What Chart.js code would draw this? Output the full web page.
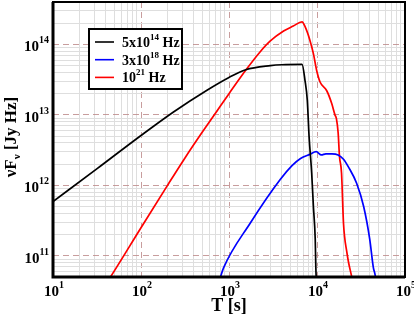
<!DOCTYPE html>
<html>
<head>
<meta charset="utf-8">
<script src="https://cdn.jsdelivr.net/npm/chart.js@4"></script>
<style>
  html, body { margin: 0; padding: 0; background: #fff; }
  #wrap { position: relative; width: 414px; height: 315px; }
</style>
</head>
<body>
<div id="wrap"><canvas id="grafica" width="414" height="315"></canvas></div>
<script>
// Datos
const optT = [10, 32, 100, 234, 562, 1000, 1550, 2950, 3980, 6760, 7300, 7760, 8130, 8700, 9100, 9550, 9700, 10000];
const optF = [5.9e11, 1.74e12, 5.1e12, 1.1e13, 2.24e13, 3.4e13, 4.37e13, 5.0e13, 5.15e13, 5.2e13, 3.1e13, 1.6e13, 4.9e12, 1.5e12, 5.0e11, 1.7e11, 6.8e10, 3e10];

const xrayT = [760, 800, 870, 1740, 3800, 5200, 6500, 8300, 9800, 11200, 12600, 14800, 17400, 20000, 22900, 28200, 33900, 39800, 43700, 45700, 47300];
const xrayF = [4e10, 5e10, 6.8e10, 2.9e11, 1.2e12, 1.9e12, 2.4e12, 2.75e12, 3.0e12, 2.7e12, 2.8e12, 2.8e12, 2.7e12, 2.35e12, 1.8e12, 1.07e12, 5.0e11, 1.7e11, 6.8e10, 5.4e10, 4e10];

const gammaT = [40, 45, 100, 200, 316, 500, 724, 1000, 1585, 2240, 2950, 4170, 5370, 6760, 7300, 8300, 9100, 9900, 10800, 12900, 14700, 16000, 16600, 17400, 18000, 19000, 20000, 21900, 22900, 24500, 25700];
const gammaF = [4e10, 5.0e10, 2.5e11, 1.0e12, 2.45e12, 5.75e12, 1.12e13, 2.0e13, 4.47e13, 7.76e13, 1.12e14, 1.55e14, 1.82e14, 2.09e14, 1.8e14, 1.15e14, 7.4e13, 4.3e13, 2.95e13, 2.2e13, 1.45e13, 1.0e13, 8.9e12, 5.5e12, 2.6e12, 1.5e12, 2.9e11, 1.1e11, 7.9e10, 5.4e10, 4e10];

// Etiquetas
const xExps = ['1', '2', '3', '4', '5'];
const yExps = ['11', '12', '13', '14'];
const legendBase = ['5x10', '3x10', '10'];
const legendExp = ['14', '18', '21'];
const seriesColors = ['#000000', '#0000ff', '#ff0000'];

const SERIF = '"Liberation Serif", "DejaVu Serif", serif';

const toPoints = (ts, fs) => ts.map((t, i) => ({ x: t, y: fs[i] }));

// ticks en 1..9 x 10^n
const logTicks = (min, max) => {
  const ticks = [];
  for (let e = Math.floor(Math.log10(min)); e <= Math.ceil(Math.log10(max)); e++) {
    for (let m = 1; m <= 9; m++) {
      const v = m * Math.pow(10, e);
      if (v >= min * 0.999 && v <= max * 1.001) ticks.push({ value: v });
    }
  }
  return ticks;
};

const isDecade = (tick) => {
  if (!tick) return false;
  const l = Math.log10(tick.value);
  return Math.abs(l - Math.round(l)) < 1e-6;
};

const gridOpts = {
  drawTicks: false,
  lineWidth: 1,
  color: (ctx) => (isDecade(ctx.tick) ? 'rgba(190,140,140,0.85)' : '#dedede')
};
const borderOpts = {
  display: false,
  dash: (ctx) => (isDecade(ctx.tick) ? [6, 4] : [])
};

// texto con partes (superindices / subindices)
const drawRich = (ctx, parts, x, y) => {
  let cx = x;
  parts.forEach((p) => {
    ctx.font = 'bold ' + p.size + 'px ' + SERIF;
    ctx.fillText(p.text, cx, y + (p.dy || 0));
    cx += ctx.measureText(p.text).width;
  });
  return cx - x;
};
const richWidth = (ctx, parts) => {
  let w = 0;
  parts.forEach((p) => {
    ctx.font = 'bold ' + p.size + 'px ' + SERIF;
    w += ctx.measureText(p.text).width;
  });
  return w;
};

const decoraciones = {
  id: 'decoraciones',
  afterDraw(chart) {
    const ctx = chart.ctx;
    const area = chart.chartArea;
    const xs = chart.scales.x;
    const ys = chart.scales.y;
    ctx.save();
    ctx.fillStyle = '#000';
    ctx.textAlign = 'left';
    ctx.textBaseline = 'alphabetic';

    // marco
    ctx.strokeStyle = '#000';
    ctx.lineWidth = 2;
    ctx.strokeRect(area.left, area.top, area.right - area.left, area.bottom - area.top);
    ctx.lineWidth = 3;
    ctx.beginPath();
    ctx.moveTo(area.left, area.top);
    ctx.lineTo(area.left, area.bottom);
    ctx.lineTo(area.right, area.bottom);
    ctx.stroke();

    // etiquetas eje x
    xExps.forEach((e) => {
      const px = xs.getPixelForValue(Math.pow(10, Number(e)));
      const parts = [{ text: '10', size: 15 }, { text: e, size: 10, dy: -8 }];
      const w = richWidth(ctx, parts);
      drawRich(ctx, parts, px - w / 2 + 1, area.bottom + 19);
    });

    // etiquetas eje y
    yExps.forEach((e) => {
      const py = ys.getPixelForValue(Math.pow(10, Number(e)));
      const parts = [{ text: '10', size: 15 }, { text: e, size: 10, dy: -8 }];
      const w = richWidth(ctx, parts);
      drawRich(ctx, parts, area.left - 4 - w, py + 7);
    });

    // titulo eje x
    const xt = [{ text: 'T [s]', size: 18 }];
    drawRich(ctx, xt, (area.left + area.right) / 2 - richWidth(ctx, xt) / 2, 311);

    // titulo eje y
    const yt = [
      { text: '\u03bdF', size: 17 },
      { text: '\u03bd', size: 11, dy: 4 },
      { text: ' [Jy Hz]', size: 17 }
    ];
    ctx.save();
    ctx.translate(16, 137);
    ctx.rotate(-Math.PI / 2);
    drawRich(ctx, yt, -richWidth(ctx, yt) / 2, 0);
    ctx.restore();

    // leyenda
    const lx = 89, ly = 29, lw = 93, lh = 60;
    ctx.fillStyle = '#fff';
    ctx.fillRect(lx, ly, lw, lh);
    ctx.strokeStyle = '#000';
    ctx.lineWidth = 2;
    ctx.strokeRect(lx, ly, lw, lh);
    legendBase.forEach((b, i) => {
      const yy = 42 + i * 17.7;
      ctx.strokeStyle = seriesColors[i];
      ctx.lineWidth = 1.6;
      ctx.beginPath();
      ctx.moveTo(95, yy);
      ctx.lineTo(114, yy);
      ctx.stroke();
      ctx.fillStyle = '#000';
      drawRich(ctx, [
        { text: b, size: 14 },
        { text: legendExp[i], size: 9, dy: -7 },
        { text: ' Hz', size: 14 }
      ], 122, yy + 5);
    });

    ctx.restore();
  }
};

const ctx = document.getElementById('grafica').getContext('2d');
const grafica = new Chart(ctx, {
  type: 'line',
  data: {
    datasets: [
      { label: '5x10^14 Hz', data: toPoints(optT, optF), borderColor: seriesColors[0] },
      { label: '3x10^18 Hz', data: toPoints(xrayT, xrayF), borderColor: seriesColors[1] },
      { label: '10^21 Hz', data: toPoints(gammaT, gammaF), borderColor: seriesColors[2] }
    ]
  },
  options: {
    responsive: false,
    animation: false,
    devicePixelRatio: 1,
    layout: { padding: { left: 53, right: 9, top: 2, bottom: 38 } },
    elements: {
      point: { radius: 0 },
      line: { borderWidth: 1.7, cubicInterpolationMode: 'monotone', fill: false }
    },
    plugins: { legend: { display: false }, tooltip: { enabled: false } },
    scales: {
      x: {
        type: 'logarithmic',
        min: 10,
        max: 1e5,
        afterBuildTicks: (s) => { s.ticks = logTicks(10, 1e5); },
        ticks: { display: false },
        grid: gridOpts,
        border: borderOpts
      },
      y: {
        type: 'logarithmic',
        min: 5e10,
        max: 4e14,
        afterBuildTicks: (s) => { s.ticks = logTicks(5e10, 4e14); },
        ticks: { display: false },
        grid: gridOpts,
        border: borderOpts
      }
    }
  },
  plugins: [decoraciones]
});
</script>
</body>
</html>
